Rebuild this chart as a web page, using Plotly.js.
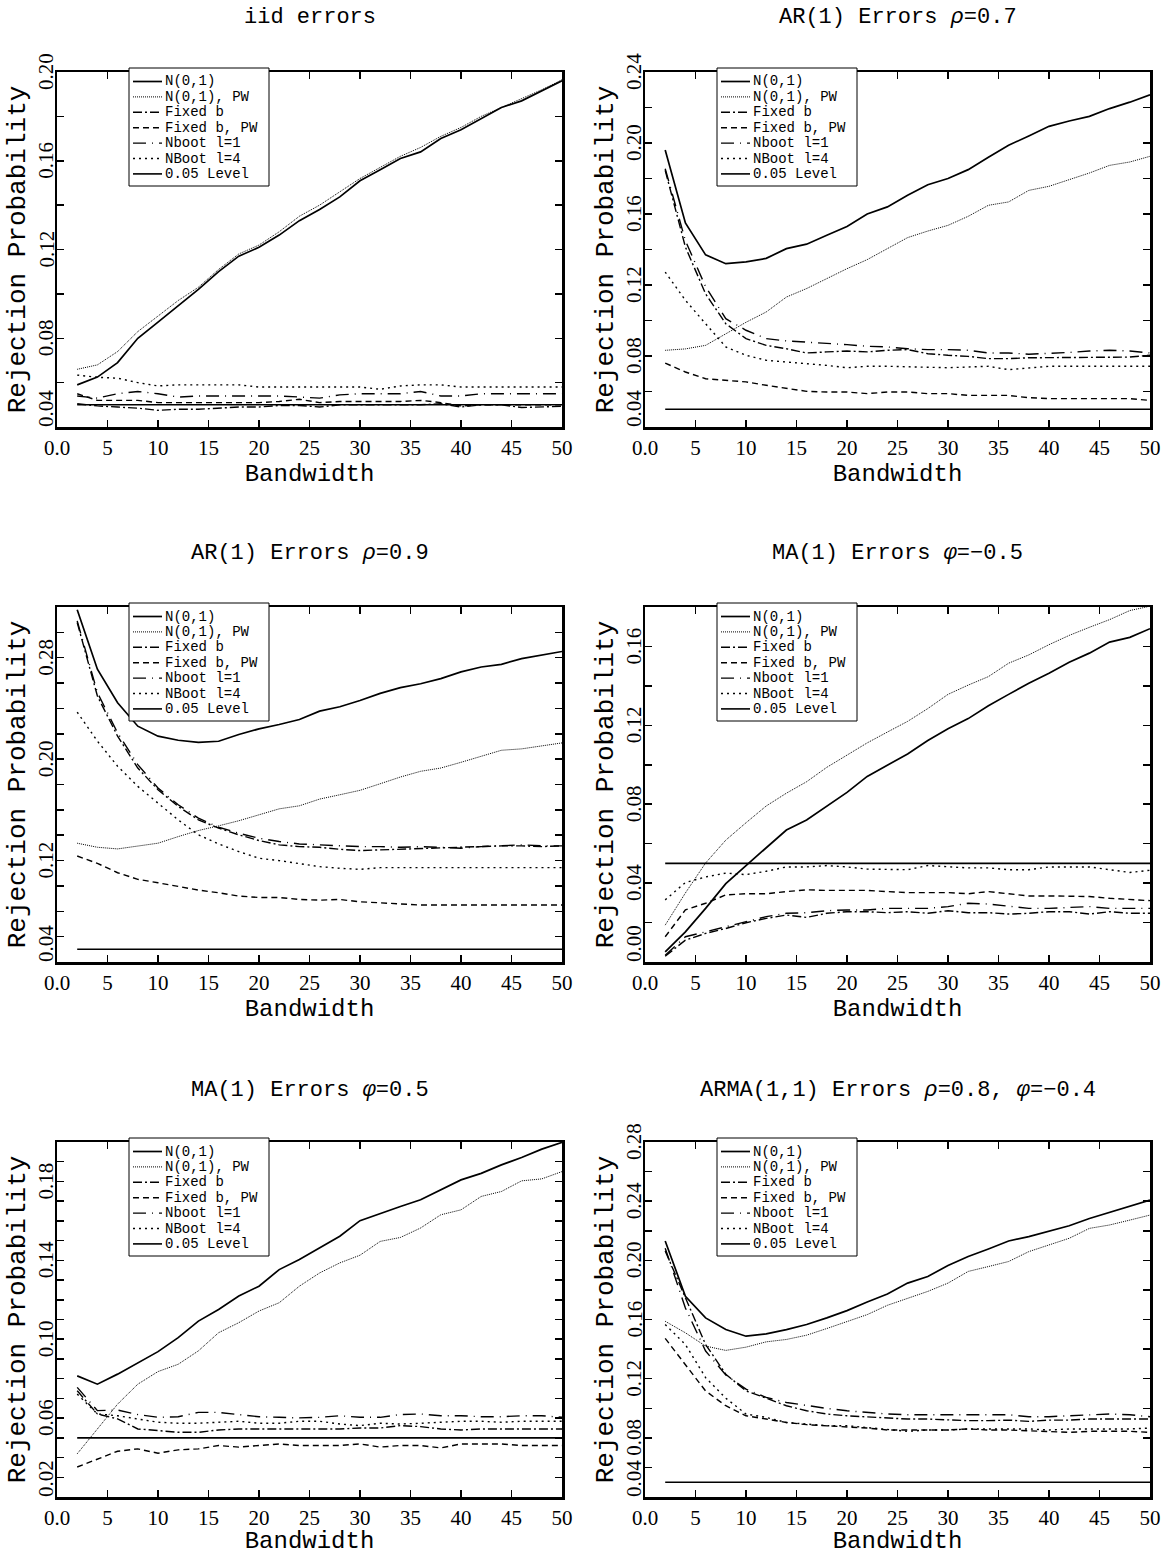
<!DOCTYPE html>
<html>
<head>
<meta charset="utf-8">
<script src="https://cdn.plot.ly/plotly-3.0.1.min.js"></script>
<style>
  html, body { margin: 0; padding: 0; background: #fff; }
  #chart { width: 1166px; height: 1555px; }
</style>
</head>
<body>
<div id="chart"></div>
<script>
// ---------------- DATA ----------------
const bandwidth = [2,4,6,8,10,12,14,16,18,20,22,24,26,28,30,32,34,36,38,40,42,44,46,48,50];
const seriesNames = ["N(0,1)", "N(0,1), PW", "Fixed b", "Fixed b, PW", "Nboot l=1", "NBoot l=4", "0.05 Level"];
const levelValue = 0.05;
const xTickVals = [0,5,10,15,20,25,30,35,40,45,50];
const xTickText = ["0.0","5","10","15","20","25","30","35","40","45","50"];
const panelTitles = [
  "iid errors",
  "AR(1) Errors <i>ρ</i>=0.7",
  "AR(1) Errors <i>ρ</i>=0.9",
  "MA(1) Errors <i>φ</i>=−0.5",
  "MA(1) Errors <i>φ</i>=0.5",
  "ARMA(1,1) Errors <i>ρ</i>=0.8, <i>φ</i>=−0.4"
];

// iid errors
const iidN    = [0.059,0.0625,0.069,0.080,0.0873,0.0945,0.102,0.110,0.117,0.121,0.1265,0.133,0.138,0.1437,0.151,0.156,0.161,0.164,0.170,0.174,0.179,0.184,0.187,0.1915,0.196];
const iidNPW  = [0.066,0.068,0.074,0.083,0.090,0.097,0.103,0.111,0.118,0.122,0.128,0.135,0.140,0.146,0.152,0.157,0.162,0.166,0.171,0.175,0.180,0.184,0.188,0.192,0.1965];
const iidFB   = [0.0505,0.0495,0.049,0.0485,0.0475,0.048,0.048,0.0485,0.049,0.049,0.0497,0.0497,0.049,0.050,0.050,0.050,0.050,0.050,0.0505,0.049,0.050,0.050,0.0488,0.049,0.0493];
const iidFBPW = [0.055,0.052,0.052,0.052,0.051,0.051,0.051,0.051,0.051,0.051,0.0515,0.0525,0.051,0.0515,0.0515,0.0515,0.0515,0.052,0.051,0.0495,0.050,0.050,0.050,0.050,0.050];
const iidNB1  = [0.054,0.053,0.055,0.056,0.055,0.0535,0.054,0.054,0.054,0.054,0.054,0.0535,0.053,0.0545,0.055,0.055,0.055,0.056,0.054,0.054,0.055,0.055,0.055,0.055,0.055];
const iidNB4  = [0.0634,0.0624,0.062,0.060,0.0585,0.059,0.059,0.059,0.059,0.058,0.058,0.058,0.058,0.058,0.058,0.057,0.0585,0.059,0.059,0.058,0.058,0.058,0.058,0.058,0.058];

// AR(1) rho = 0.7
const ar7N    = [0.196,0.155,0.137,0.132,0.133,0.135,0.1405,0.143,0.148,0.153,0.160,0.164,0.1705,0.1765,0.180,0.185,0.192,0.1987,0.204,0.2094,0.2124,0.215,0.2194,0.223,0.2272];
const ar7NPW  = [0.0832,0.084,0.086,0.0926,0.099,0.1048,0.1132,0.118,0.1236,0.1292,0.1343,0.1405,0.1467,0.1504,0.1536,0.1587,0.1649,0.1668,0.1733,0.1756,0.1793,0.1831,0.1874,0.1893,0.1925];
const ar7FB   = [0.1846,0.1414,0.115,0.0982,0.0898,0.086,0.0841,0.0817,0.0823,0.0828,0.0823,0.0832,0.0836,0.0813,0.0804,0.0798,0.0785,0.0785,0.079,0.079,0.079,0.079,0.079,0.0794,0.0804];
const ar7FBPW = [0.076,0.071,0.0672,0.0663,0.0654,0.0635,0.0616,0.0601,0.0597,0.0597,0.0588,0.0597,0.0597,0.0588,0.0588,0.0578,0.0578,0.0578,0.0565,0.056,0.056,0.056,0.056,0.056,0.055];
const ar7NB1  = [0.1855,0.145,0.119,0.101,0.0945,0.0898,0.0885,0.0879,0.087,0.0864,0.0855,0.0851,0.0841,0.0836,0.0836,0.0832,0.0817,0.0817,0.081,0.0813,0.082,0.0828,0.0832,0.0828,0.0817];
const ar7NB4  = [0.1273,0.1114,0.0982,0.0851,0.0804,0.0776,0.0766,0.0757,0.0747,0.0734,0.0742,0.0742,0.0738,0.0734,0.0734,0.0738,0.0742,0.0723,0.0734,0.0742,0.0742,0.0742,0.0742,0.0742,0.0742];

// AR(1) rho = 0.9
const ar9N    = [0.3178,0.2709,0.2445,0.226,0.2181,0.2149,0.2133,0.2141,0.2194,0.2239,0.2273,0.2313,0.2379,0.2413,0.2463,0.2519,0.2564,0.2595,0.2635,0.2688,0.2727,0.2748,0.2793,0.2822,0.2849];
const ar9NPW  = [0.1337,0.1305,0.1292,0.1316,0.1337,0.1389,0.1437,0.1474,0.1514,0.1561,0.1608,0.1632,0.1685,0.1719,0.1754,0.1806,0.1859,0.1904,0.193,0.1975,0.2023,0.207,0.2081,0.2102,0.2128];
const ar9FB   = [0.3078,0.2498,0.2181,0.193,0.1759,0.1627,0.1521,0.1456,0.1403,0.1358,0.1324,0.131,0.1305,0.1289,0.1279,0.1284,0.1289,0.1297,0.1297,0.1305,0.131,0.1316,0.1316,0.131,0.1316];
const ar9FBPW = [0.1236,0.1178,0.1104,0.1052,0.1025,0.0994,0.0967,0.0946,0.092,0.0909,0.0909,0.0893,0.0888,0.0893,0.0875,0.0867,0.0856,0.0849,0.0849,0.0849,0.0849,0.0849,0.0849,0.0849,0.0849];
const ar9NB1  = [0.3091,0.2524,0.2207,0.1957,0.1772,0.164,0.1535,0.1463,0.1416,0.1376,0.135,0.1331,0.1324,0.1316,0.131,0.131,0.1305,0.131,0.1305,0.1297,0.131,0.1316,0.1324,0.1316,0.1316];
const ar9NB4  = [0.2371,0.2142,0.1944,0.1785,0.1653,0.1521,0.1403,0.1331,0.1271,0.1218,0.12,0.1173,0.1152,0.1139,0.1131,0.1144,0.1144,0.1144,0.1144,0.1144,0.1144,0.1144,0.1144,0.1144,0.1144];

// MA(1) phi = -0.5
const man5N    = [0.0051,0.0153,0.0272,0.0397,0.0489,0.0579,0.0669,0.072,0.0791,0.086,0.0941,0.0996,0.1055,0.1123,0.1183,0.1234,0.1299,0.1357,0.1413,0.1464,0.152,0.1566,0.1622,0.1646,0.169];
const man5NPW  = [0.0187,0.0350,0.0502,0.0618,0.0706,0.0791,0.0856,0.0914,0.0987,0.1047,0.1111,0.1166,0.122,0.1285,0.1357,0.1404,0.1447,0.1515,0.1557,0.1609,0.1656,0.1697,0.1736,0.1782,0.1804];
const man5FB   = [0.0029,0.0111,0.0145,0.017,0.0199,0.0221,0.0238,0.0226,0.0247,0.0255,0.0255,0.025,0.0255,0.0247,0.026,0.025,0.025,0.0243,0.0247,0.0255,0.0255,0.0243,0.0255,0.0247,0.0247];
const man5FBPW = [0.0128,0.0264,0.0298,0.034,0.0346,0.0346,0.0357,0.0366,0.0363,0.0363,0.0363,0.0357,0.0352,0.0352,0.0352,0.0346,0.0357,0.0346,0.0335,0.0335,0.0335,0.0332,0.0323,0.0318,0.0311];
const man5NB1  = [0.0034,0.0128,0.0153,0.0179,0.0204,0.023,0.0247,0.025,0.026,0.0264,0.0264,0.0272,0.0272,0.0272,0.0281,0.0298,0.0294,0.0284,0.0272,0.0272,0.0277,0.0281,0.0272,0.0272,0.0272];
const man5NB4  = [0.0315,0.0403,0.0431,0.0451,0.0443,0.046,0.0482,0.0482,0.0489,0.0482,0.0471,0.0468,0.0468,0.0489,0.0482,0.0477,0.0477,0.0468,0.0468,0.0482,0.0482,0.0482,0.0468,0.0454,0.0465];

// MA(1) phi = 0.5
const map5N    = [0.0814,0.0772,0.0823,0.0882,0.0937,0.1008,0.1092,0.1151,0.1219,0.1269,0.1353,0.1404,0.1463,0.1522,0.1601,0.1639,0.1673,0.1707,0.1757,0.1808,0.1841,0.1884,0.1921,0.1964,0.1998];
const map5NPW  = [0.0419,0.0545,0.0671,0.0772,0.0836,0.0873,0.0941,0.1033,0.1084,0.1143,0.1185,0.1269,0.1336,0.1387,0.1426,0.1496,0.1516,0.1564,0.1631,0.1656,0.1724,0.1749,0.1803,0.1813,0.185];
const map5FB   = [0.0739,0.0621,0.0596,0.0545,0.0537,0.0528,0.0528,0.054,0.0545,0.0545,0.0545,0.0545,0.0545,0.0545,0.055,0.055,0.0562,0.0557,0.0545,0.054,0.0545,0.0545,0.0545,0.0545,0.0545];
const map5FBPW = [0.0352,0.0394,0.0432,0.0444,0.0422,0.0439,0.0444,0.0461,0.0453,0.0461,0.0469,0.0461,0.0461,0.0461,0.0469,0.0453,0.0461,0.0461,0.0449,0.0469,0.0469,0.0469,0.0461,0.0461,0.0461];
const map5NB1  = [0.0756,0.0638,0.0641,0.0618,0.0604,0.0607,0.0629,0.0629,0.0618,0.0607,0.0604,0.0601,0.0604,0.0612,0.0604,0.0604,0.0618,0.0621,0.0612,0.0612,0.0607,0.0607,0.0612,0.0612,0.0604];
const map5NB4  = [0.0722,0.0621,0.0612,0.0596,0.0579,0.0574,0.0574,0.0579,0.0584,0.0574,0.0574,0.0584,0.0584,0.057,0.0562,0.0574,0.057,0.0574,0.0579,0.0584,0.0584,0.0579,0.0584,0.0584,0.0584];

// ARMA(1,1) rho = 0.8, phi = -0.4
const armaN    = [0.2131,0.1757,0.1611,0.1532,0.1487,0.1503,0.1532,0.1566,0.1611,0.166,0.1718,0.1772,0.1846,0.1891,0.1965,0.2026,0.2077,0.2131,0.216,0.2198,0.2234,0.2283,0.2324,0.2362,0.2407];
const armaNPW  = [0.1588,0.151,0.142,0.1391,0.1413,0.1449,0.1465,0.1494,0.1539,0.1584,0.1633,0.1696,0.1741,0.179,0.1846,0.1925,0.1958,0.1992,0.2059,0.2104,0.2149,0.2216,0.2239,0.2272,0.2306];
const armaFB   = [0.2064,0.1745,0.1431,0.123,0.1117,0.1068,0.1017,0.0983,0.0961,0.0949,0.0943,0.0934,0.0927,0.0927,0.092,0.0916,0.0916,0.092,0.0911,0.092,0.092,0.0927,0.0927,0.0927,0.0927];
const armaFBPW = [0.1472,0.1297,0.1117,0.1017,0.0949,0.0927,0.0904,0.0889,0.0882,0.0875,0.0866,0.0853,0.0853,0.0853,0.0853,0.086,0.0853,0.0853,0.0848,0.0844,0.0837,0.0844,0.0844,0.0844,0.0837];
const armaNB1  = [0.2082,0.1678,0.1387,0.1225,0.1129,0.1073,0.1039,0.1017,0.0999,0.0983,0.0972,0.0961,0.0956,0.0956,0.0956,0.0956,0.0961,0.0956,0.0943,0.0943,0.0949,0.0956,0.0961,0.0956,0.0943];
const armaNB4  = [0.1566,0.1431,0.1207,0.1068,0.0961,0.0938,0.0904,0.0893,0.0882,0.0882,0.0871,0.086,0.0844,0.0853,0.0853,0.086,0.086,0.086,0.086,0.0853,0.086,0.086,0.086,0.086,0.0866];

const yRanges     = [[0.04,0.20],[0.04,0.24],[0.04,0.32],[0.00,0.18],[0.02,0.20],[0.04,0.28]];
const yLabelStep  = [0.04,0.04,0.08,0.04,0.04,0.04];
const yTickStep   = [0.02,0.02,0.02,0.02,0.01,0.02];

// ---------------- LAYOUT / STYLE ----------------
const W = 1166, H = 1555;
const FONT = "Liberation Mono, Courier New, monospace";
const TICKFONT = "Liberation Serif, Times New Roman, serif";
const panelSeries = [
  [iidN, iidNPW, iidFB, iidFBPW, iidNB1, iidNB4],
  [ar7N, ar7NPW, ar7FB, ar7FBPW, ar7NB1, ar7NB4],
  [ar9N, ar9NPW, ar9FB, ar9FBPW, ar9NB1, ar9NB4],
  [man5N, man5NPW, man5FB, man5FBPW, man5NB1, man5NB4],
  [map5N, map5NPW, map5FB, map5FBPW, map5NB1, map5NB4],
  [armaN, armaNPW, armaFB, armaFBPW, armaNB1, armaNB4]
];
const lineStyles = [
  {color:'black', width:1.7, dash:'solid'},
  {color:'black', width:1.0, dash:'1px,1px'},
  {color:'black', width:1.4, dash:'9px,3px,2px,3px'},
  {color:'black', width:1.4, dash:'6px,4px'},
  {color:'black', width:1.4, dash:'13px,6px,1px,6px'},
  {color:'black', width:1.4, dash:'2px,4px'},
  {color:'black', width:1.6, dash:'solid'}
];
// pixel frames of the six plot areas
const colsPx = [[57,562],[645,1150]];
const rowsPx = [[72,427],[607,962],[1142,1497]];
const titleYPx = [18, 553, 1090];
const LABEL_FONT = 21, LABEL_HALF = 18;

const traces = [];
const layout = {
  width: W, height: H,
  margin: {l:0, r:0, t:0, b:0},
  paper_bgcolor: 'white', plot_bgcolor: 'white',
  font: {family: FONT, color: 'black', size: 18},
  showlegend: false,
  annotations: [],
  shapes: []
};

const px2x = v => v / W;
const px2y = v => 1 - v / H;

for (let p = 0; p < 6; p++) {
  const row = Math.floor(p / 2), col = p % 2;
  const [L, R] = colsPx[col];
  const [T, B] = rowsPx[row];
  const sfx = p === 0 ? '' : String(p + 1);
  const xa = 'x' + sfx, ya = 'y' + sfx;

  panelSeries[p].forEach((ys, i) => {
    traces.push({
      type: 'scatter', mode: 'lines', x: bandwidth, y: ys,
      name: seriesNames[i], line: lineStyles[i],
      xaxis: xa, yaxis: ya, hoverinfo: 'skip'
    });
  });
  traces.push({
    type: 'scatter', mode: 'lines',
    x: [bandwidth[0], bandwidth[bandwidth.length - 1]], y: [levelValue, levelValue],
    name: seriesNames[6], line: lineStyles[6],
    xaxis: xa, yaxis: ya, hoverinfo: 'skip'
  });

  const yr = yRanges[p];
  layout['xaxis' + sfx] = {
    domain: [L / W, R / W], anchor: ya, range: [0, 50],
    tickmode: 'array', tickvals: xTickVals, ticktext: xTickText,
    ticks: 'inside', ticklen: 7, tickwidth: 1.5, tickcolor: 'black',
    showline: true, linewidth: 2.5, linecolor: 'black', mirror: 'ticks',
    showgrid: false, zeroline: false,
    tickfont: {family: TICKFONT, size: LABEL_FONT},
    title: {text: 'Bandwidth', font: {family: FONT, size: 24}, standoff: 6}
  };
  layout['yaxis' + sfx] = {
    domain: [1 - B / H, 1 - T / H], anchor: xa, range: yr,
    tickmode: 'linear', tick0: yr[0], dtick: yTickStep[p], showticklabels: false,
    ticks: 'inside', ticklen: 7, tickwidth: 1.5, tickcolor: 'black',
    showline: true, linewidth: 2.5, linecolor: 'black', mirror: 'ticks',
    showgrid: false, zeroline: false,
    title: {text: 'Rejection Probability', font: {family: FONT, size: 26}, standoff: 22}
  };
  // rotated y tick labels, placed at the axis' own values (lowest one sits on the x axis)
  const nLab = Math.round((yr[1] - yr[0]) / yLabelStep[p]);
  for (let k = 0; k <= nLab; k++) {
    const v = +(yr[0] + k * yLabelStep[p]).toFixed(2);
    layout.annotations.push({
      xref: xa + ' domain', yref: ya, x: 0, y: v,
      xanchor: 'center', yanchor: 'middle',
      xshift: -11, yshift: k === 0 ? LABEL_HALF : 0,
      text: v.toFixed(2), textangle: -90, showarrow: false,
      font: {family: TICKFONT, size: LABEL_FONT, color: 'black'}
    });
  }
  // panel title
  layout.annotations.push({
    xref: 'paper', yref: 'paper', x: px2x((L + R) / 2), y: px2y(titleYPx[row]),
    xanchor: 'center', yanchor: 'middle', text: panelTitles[p], showarrow: false,
    font: {family: FONT, size: 22, color: 'black'}
  });
  // legend box
  const bl = L + 72, bt = T - 4, bw = 140, bh = 118;
  layout.shapes.push({
    type: 'rect', xref: 'paper', yref: 'paper', layer: 'above',
    x0: px2x(bl), x1: px2x(bl + bw), y0: px2y(bt + bh), y1: px2y(bt),
    fillcolor: 'white', line: {color: 'black', width: 1}
  });
  seriesNames.forEach((nm, i) => {
    const cy = bt + 13.5 + i * 15.4;
    layout.shapes.push({
      type: 'line', xref: 'paper', yref: 'paper', layer: 'above',
      x0: px2x(bl + 4), x1: px2x(bl + 33), y0: px2y(cy), y1: px2y(cy),
      line: {color: lineStyles[i].color, width: lineStyles[i].width, dash: lineStyles[i].dash}
    });
    layout.annotations.push({
      xref: 'paper', yref: 'paper', x: px2x(bl + 34), y: px2y(cy),
      xanchor: 'left', yanchor: 'middle', text: nm, showarrow: false,
      font: {family: FONT, size: 14, color: 'black'}
    });
  });
}

Plotly.newPlot('chart', traces, layout, {staticPlot: true, displayModeBar: false});
</script>
</body>
</html>
